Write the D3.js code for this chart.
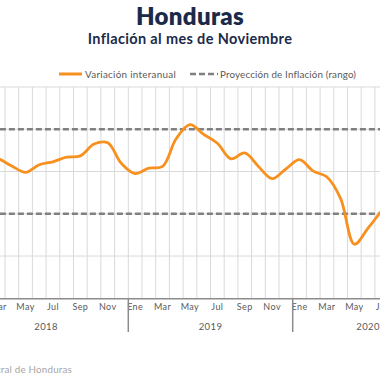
<!DOCTYPE html>
<html>
<head>
<meta charset="utf-8">
<script src="https://cdn.jsdelivr.net/npm/d3@7"></script>
<style>
  html, body { margin: 0; padding: 0; background: #fff; }
  svg { display: block; }
  text { font-family: "Lato", "Open Sans", sans-serif; }
</style>
</head>
<body>
<svg id="chart" width="380" height="380"></svg>
<script>
// ---- data ----
const years = ["2018", "2019", "2020"];
const monthNames = ["Ene","Feb","Mar","Abr","May","Jun","Jul","Ago","Sep","Oct","Nov","Dic"];
// months on the axis: Jan 2018 .. Nov 2020
const months = [];
years.forEach(y => monthNames.forEach((m, i) => {
  if (!(y === "2020" && i > 10)) months.push(y + "-" + m);
}));
// Variación interanual (%), Jan 2018 .. Jul 2020
const inflation = [4.45, 4.42, 4.31, 4.13, 3.98, 4.16, 4.23, 4.34, 4.37, 4.65, 4.68, 4.19,
                   3.95, 4.08, 4.12, 4.78, 5.11, 4.88, 4.67, 4.30, 4.44, 4.12, 3.83, 4.06,
                   4.28, 4.01, 3.87, 3.36, 2.28, 2.66, 3.08];
const rangeLow = 3, rangeHigh = 5;
const yTicks = [1, 2, 3, 4, 5, 6];
const title = "Honduras";
const subtitle = "Inflación al mes de Noviembre";
const legendLine = "Variación interanual";
const legendRange = "Proyección de Inflación (rango)";
const source = "Fuente: Banco Central de Honduras";

// ---- layout ----
const svg = d3.select("#chart");
const plotLeft = -36.1, plotRight = 443.4, plotTop = 87, plotBottom = 298.3;

const x = d3.scaleBand().domain(months).range([plotLeft, plotRight]).padding(0);
const y = d3.scaleLinear().domain([1, 6]).range([plotBottom, plotTop]);

const orange = "#F7901E";
const dashGray = "#808080";
const gridGray = "#D9D9D9";
const textGray = "#595959";

// title
svg.append("text").attr("x", 190).attr("y", 25).attr("text-anchor", "middle")
  .attr("font-size", 24).attr("font-weight", 800).attr("fill", "#1C2A4A")
  .attr("letter-spacing", 0.3).text(title);
svg.append("text").attr("x", 190).attr("y", 43.5).attr("text-anchor", "middle")
  .attr("font-size", 14.5).attr("font-weight", 700).attr("fill", "#1C2A4A")
  .attr("letter-spacing", 0.35).text(subtitle);

// legend
const lg = svg.append("g");
lg.append("line").attr("x1", 59).attr("x2", 82).attr("y1", 74).attr("y2", 74)
  .attr("stroke", orange).attr("stroke-width", 3);
lg.append("text").attr("x", 85).attr("y", 77.5).attr("font-size", 9.8).attr("fill", textGray)
  .attr("letter-spacing", 0.3).text(legendLine);
lg.append("line").attr("x1", 190).attr("x2", 218).attr("y1", 74).attr("y2", 74)
  .attr("stroke", dashGray).attr("stroke-width", 2.5).attr("stroke-dasharray", "6,3");
lg.append("text").attr("x", 220).attr("y", 77.5).attr("font-size", 9.8).attr("fill", textGray)
  .attr("letter-spacing", 0.15).text(legendRange);

// horizontal grid
svg.append("g").selectAll("line").data(yTicks.slice(1)).join("line")
  .attr("x1", plotLeft).attr("x2", plotRight)
  .attr("y1", d => y(d)).attr("y2", d => y(d))
  .attr("stroke", gridGray).attr("stroke-width", 1);

// vertical grid at month boundaries
svg.append("g").selectAll("line").data(months.slice(1)).join("line")
  .attr("x1", d => x(d)).attr("x2", d => x(d))
  .attr("y1", plotTop).attr("y2", plotBottom)
  .attr("stroke", gridGray).attr("stroke-width", 1);

// range dashed lines
svg.append("g").selectAll("line").data([rangeHigh, rangeLow]).join("line")
  .attr("x1", plotLeft).attr("x2", plotRight)
  .attr("y1", d => y(d)).attr("y2", d => y(d))
  .attr("stroke", dashGray).attr("stroke-width", 2.6).attr("stroke-dasharray", "6,3");

// x axis
const xAxis = d3.axisBottom(x).tickSize(0)
  .tickValues(months.filter((m, i) => i % 2 === 0))
  .tickFormat(d => d.split("-")[1]);
const xg = svg.append("g").attr("transform", `translate(0,${plotBottom})`).call(xAxis);
xg.select(".domain").attr("stroke", "#8C8C8C").attr("stroke-width", 1.5);
xg.selectAll("text").attr("fill", textGray).attr("font-size", 9).attr("dy", "0.95em")
  .attr("letter-spacing", 0.4);

// year separators and labels
years.forEach((yr, i) => {
  const ms = months.filter(m => m.startsWith(yr));
  const x0 = x(ms[0]), x1 = x(ms[ms.length - 1]) + x.bandwidth();
  if (i > 0) {
    svg.append("line").attr("x1", x0).attr("x2", x0).attr("y1", plotBottom).attr("y2", 332)
      .attr("stroke", "#8C8C8C").attr("stroke-width", 1.5);
  }
  svg.append("text").attr("x", (x0 + x1) / 2).attr("y", 330).attr("text-anchor", "middle")
    .attr("font-size", 9.5).attr("fill", textGray).attr("letter-spacing", 0.4).text(yr);
});

// line
const line = d3.line()
  .x((d, i) => x(months[i]) + x.bandwidth() / 2)
  .y(d => y(d))
  .curve(d3.curveCatmullRom.alpha(0.5));
svg.append("path").datum(inflation).attr("d", line)
  .attr("fill", "none").attr("stroke", orange).attr("stroke-width", 2.8)
  .attr("stroke-linejoin", "round").attr("stroke-linecap", "round");

// source
svg.append("text").attr("x", 72).attr("y", 372.5).attr("text-anchor", "end")
  .attr("font-size", 9.8).attr("fill", "#A6A6A6").attr("letter-spacing", 0.2).text(source);
</script>
</body>
</html>
